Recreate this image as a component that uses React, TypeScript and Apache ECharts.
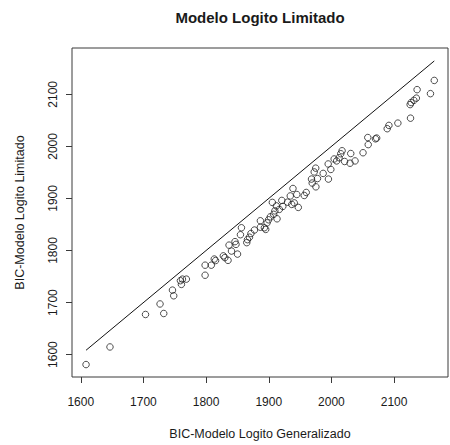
import React, { useEffect, useRef } from "react";
import * as echarts from "echarts";

const chartTitle = "Modelo Logito Limitado";
const xAxisName = "BIC-Modelo Logito Generalizado";
const yAxisName = "BIC-Modelo Logito Limitado";

const xTicks = [1600, 1700, 1800, 1900, 2000, 2100];
const yTicks = [1600, 1700, 1800, 1900, 2000, 2100];

const xValues = [
  1608.4, 1646.6, 1703.3, 1726.5, 1732.4, 1746.3, 1748.3, 1759, 1760.6, 1762.2,
  1768.5, 1798.4, 1798.4, 1808.3, 1813, 1815.1, 1827.5, 1829.9, 1835, 1836.6,
  1840.5, 1846.1, 1847.7, 1850.1, 1854.8, 1856.4, 1864.9, 1866, 1869.2, 1871.5,
  1877.1, 1886.6, 1886.6, 1893, 1895.1, 1897.3, 1899.7, 1902.5, 1905.7, 1907.8,
  1909.7, 1912.1, 1913.2, 1916.9, 1920.8, 1922.4, 1930, 1934.3, 1936.7, 1938.6,
  1940.7, 1944.7, 1947.1, 1956.6, 1959.8, 1968.2, 1969.3, 1972.5, 1974.9, 1975.2,
  1977.7, 1986.8, 1994.8, 1995.2, 1999, 2004.3, 2008.3, 2012.2, 2014.9, 2017,
  2021, 2029.7, 2030.8, 2037.7, 2050.4, 2058, 2058.7, 2070.3, 2072.2, 2089,
  2091.7, 2106, 2126.2, 2125.6, 2127.2, 2131.5, 2135.5, 2136.7, 2158, 2164.1,
];

const yValues = [
  1580.9, 1614.7, 1677.1, 1697.3, 1679, 1723.9, 1713, 1742, 1734.9, 1745,
  1745, 1771.8, 1752.5, 1771.8, 1783.6, 1780.7, 1789.7, 1786.4, 1781.1, 1810.3,
  1798.9, 1817, 1811.8, 1793.1, 1830.3, 1843.7, 1815.1, 1820.8, 1825.6, 1832.6,
  1839.3, 1844.7, 1857.1, 1843.7, 1840.5, 1853.2, 1859, 1864.7, 1892.4, 1869.5,
  1876.1, 1885.7, 1860.9, 1879, 1896.2, 1884.7, 1892.9, 1904.8, 1888.5, 1919.1,
  1891.4, 1907.6, 1882.8, 1905.7, 1911.5, 1937.2, 1929.6, 1950.9, 1958.2, 1922.3,
  1938.2, 1948.1, 1966.2, 1937.2, 1955.7, 1975.8, 1972.1, 1978.2, 1985.9, 1991.6,
  1971, 1967.7, 1986.3, 1972.1, 1987.8, 2017, 2003.4, 2014.5, 2016, 2034,
  2040.3, 2044.7, 2054.2, 2080.3, 2084.2, 2088.5, 2092.7, 2109, 2101.3, 2126.7,
];

const FONT = "'Liberation Sans', Arial, sans-serif";
const INK = "#1a1a1a";

export default function App() {
  const ref = useRef<HTMLDivElement>(null);

  useEffect(() => {
    if (!ref.current) return;
    const chart = echarts.init(ref.current, undefined, { renderer: "svg" });

    const points = xValues.map((x, i) => [x, yValues[i]]);
    const minX = Math.min(...xValues);
    const maxX = Math.max(...xValues);
    const refLine = [
      [minX, minX],
      [maxX, maxX],
    ];
    const plain = (v: number) => String(v);

    chart.setOption({
      animation: false,
      backgroundColor: "#ffffff",
      title: {
        text: chartTitle,
        left: 260,
        top: 10,
        padding: 0,
        textAlign: "center",
        textStyle: { fontFamily: FONT, fontSize: 15, fontWeight: "bold", color: INK },
      },
      grid: {
        left: 72,
        top: 48,
        right: 2,
        bottom: 64.5,
        show: true,
        borderColor: "#3a3a3a",
        borderWidth: 1,
        backgroundColor: "transparent",
      },
      xAxis: {
        type: "value",
        min: 1586,
        max: 2186,
        axisLine: { show: false },
        splitLine: { show: false },
        axisTick: { show: true, length: 6, customValues: xTicks, lineStyle: { color: "#3a3a3a" } },
        axisLabel: { customValues: xTicks, formatter: plain, margin: 19, fontSize: 12, fontFamily: FONT, color: INK },
        name: xAxisName,
        nameLocation: "middle",
        nameGap: 50,
        nameTextStyle: { fontFamily: FONT, fontSize: 12.5, color: INK },
      },
      yAxis: {
        type: "value",
        min: 1557,
        max: 2189,
        axisLine: { show: false },
        splitLine: { show: false },
        axisTick: { show: true, length: 6, customValues: yTicks, lineStyle: { color: "#3a3a3a" } },
        axisLabel: { customValues: yTicks, formatter: plain, rotate: 90, margin: 13, fontSize: 12, fontFamily: FONT, color: INK },
        name: yAxisName,
        nameLocation: "middle",
        nameGap: 46,
        nameTextStyle: { fontFamily: FONT, fontSize: 12.5, color: INK },
      },
      series: [
        {
          type: "line",
          data: refLine,
          symbol: "none",
          lineStyle: { color: "#111111", width: 1 },
          silent: true,
        },
        {
          type: "scatter",
          data: points,
          symbol: "circle",
          symbolSize: 6.5,
          itemStyle: { color: "rgba(0,0,0,0)", borderColor: "#222222", borderWidth: 1 },
        },
      ],
    });

    return () => chart.dispose();
  }, []);

  return (
    <div
      ref={ref}
      style={{ position: "absolute", left: 0, top: 0, width: 450, height: 445, background: "#fff" }}
    />
  );
}
